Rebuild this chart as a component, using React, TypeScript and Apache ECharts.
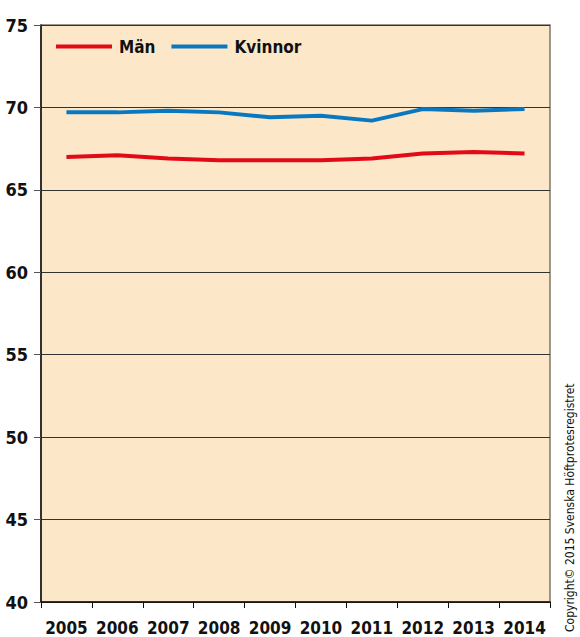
import React, { useEffect, useRef } from "react";
import * as echarts from "echarts";

const years = ["2005", "2006", "2007", "2008", "2009", "2010", "2011", "2012", "2013", "2014"];
const man = [67.0, 67.1, 66.9, 66.8, 66.8, 66.8, 66.9, 67.2, 67.3, 67.2];
const kvinnor = [69.7, 69.7, 69.8, 69.7, 69.4, 69.5, 69.2, 69.9, 69.8, 69.9];
const seriesNames = ["Män", "Kvinnor"];
const copyright = "Copyright© 2015 Svenska Höftprotesregistret";

const FONT = "'DejaVu Sans Condensed', 'Liberation Sans Narrow', sans-serif";

export default function App() {
  const ref = useRef<HTMLDivElement>(null);
  useEffect(() => {
    if (!ref.current) return;
    const chart = echarts.init(ref.current, undefined, { renderer: "svg" });
    chart.setOption({
      animation: false,
      backgroundColor: "#ffffff",
      grid: {
        left: 41,
        right: 30,
        top: 25,
        bottom: 35,
        show: true,
        backgroundColor: "#FCE8C9",
        borderColor: "#807468",
        borderWidth: 1.5,
      },
      legend: {
        left: 51,
        top: 33,
        itemWidth: 56,
        itemHeight: 4,
        itemGap: 16,
        icon: "rect",
        textStyle: { fontFamily: FONT, fontSize: 17, fontWeight: "bold", color: "#111", padding: [0, 0, 0, 2] },
        data: seriesNames,
      },
      xAxis: {
        type: "category",
        data: years,
        boundaryGap: true,
        axisLine: { lineStyle: { color: "#111", width: 1.5 } },
        axisTick: { show: true, length: 6, lineStyle: { color: "#111" } },
        axisLabel: { interval: 0, fontFamily: FONT, fontSize: 17, fontWeight: "bold", color: "#111", margin: 17 },
      },
      yAxis: {
        type: "value",
        min: 40,
        max: 75,
        interval: 5,
        axisLine: { show: true, lineStyle: { color: "#111", width: 1.5 } },
        axisTick: { show: true, length: 7, lineStyle: { color: "#555" } },
        axisLabel: { fontFamily: FONT, fontSize: 18, fontWeight: "bold", color: "#111", margin: 13 },
        splitLine: { show: true, lineStyle: { color: "#333", width: 1 } },
      },
      graphic: [
        {
          type: "text",
          x: 564,
          y: 632,
          rotation: Math.PI / 2,
          style: {
            text: copyright,
            fontFamily: FONT,
            fontSize: 12,
            fill: "#111",
            textAlign: "left",
            textVerticalAlign: "top",
          },
        },
      ],
      series: [
        {
          name: seriesNames[0],
          type: "line",
          data: man,
          symbol: "none",
          color: "#E30A17",
          lineStyle: { width: 4, color: "#E30A17" },
        },
        {
          name: seriesNames[1],
          type: "line",
          data: kvinnor,
          symbol: "none",
          color: "#0A78C0",
          lineStyle: { width: 4, color: "#0A78C0" },
        },
      ],
    });
    return () => chart.dispose();
  }, []);
  return <div ref={ref} style={{ width: 580, height: 637, position: "absolute", left: 0, top: 0 }} />;
}
